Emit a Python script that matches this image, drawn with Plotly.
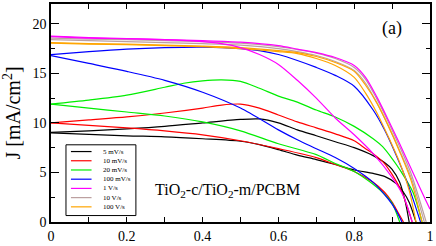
import plotly.graph_objects as go

# ---------------- data ----------------
series_names = ["5 mV/s", "10 mV/s", "20 mV/s", "100 mV/s", "1 V/s", "10 V/s", "100 V/s"]
series_colors = ["#000000", "#ff0000", "#00ee00", "#0000ff", "#ff00ff", "#bca0a0", "#ffa500"]

# 5 mV/s
v_5_rev = [0, 0.1, 0.2, 0.3, 0.4, 0.5, 0.55, 0.6, 0.65, 0.7, 0.75, 0.8, 0.85, 0.88, 0.9, 0.92, 0.935, 0.945]
j_5_rev = [9.05, 9.2, 9.4, 9.65, 10.0, 10.35, 10.4, 10.0, 9.3, 8.7, 8.1, 7.5, 6.7, 6.0, 5.3, 4.0, 2.0, 0]
v_5_fwd = [0, 0.1, 0.2, 0.3, 0.4, 0.5, 0.55, 0.6, 0.65, 0.7, 0.75, 0.8, 0.85, 0.88, 0.91, 0.93, 0.945, 0.963]
j_5_fwd = [9.0, 8.85, 8.7, 8.6, 8.4, 8.15, 7.8, 7.3, 6.75, 6.3, 5.8, 5.25, 4.9, 4.6, 3.9, 3.0, 2.0, 0]

# 10 mV/s
v_10_rev = [0, 0.1, 0.2, 0.3, 0.4, 0.45, 0.5, 0.55, 0.6, 0.65, 0.7, 0.75, 0.8, 0.83, 0.85, 0.88, 0.9, 0.926, 0.953]
j_10_rev = [10.0, 10.3, 10.6, 11.0, 11.5, 11.8, 11.9, 11.5, 10.8, 10.1, 9.5, 8.9, 8.2, 7.4, 6.9, 5.9, 4.8, 3.0, 0]
v_10_fwd = [0, 0.1, 0.2, 0.3, 0.4, 0.5, 0.6, 0.7, 0.75, 0.8, 0.85, 0.88, 0.9, 0.915, 0.93]
j_10_fwd = [10.0, 9.75, 9.5, 9.2, 8.8, 8.2, 7.4, 6.5, 5.8, 5.1, 4.0, 3.0, 2.0, 1.0, 0]

# 20 mV/s
v_20_rev = [0, 0.1, 0.2, 0.3, 0.35, 0.4, 0.45, 0.5, 0.55, 0.6, 0.65, 0.7, 0.75, 0.8, 0.85, 0.875, 0.9, 0.92, 0.955, 0.979]
j_20_rev = [11.9, 12.3, 12.8, 13.6, 14.0, 14.25, 14.35, 14.2, 13.5, 12.7, 12.1, 11.3, 10.6, 9.65, 8.4, 7.6, 6.4, 5.3, 3.0, 0]
v_20_fwd = [0, 0.1, 0.2, 0.3, 0.4, 0.5, 0.6, 0.7, 0.75, 0.8, 0.85, 0.88, 0.9, 0.92]
j_20_fwd = [11.9, 11.5, 11.1, 10.7, 10.1, 9.2, 7.9, 6.8, 5.9, 5.1, 3.8, 2.8, 1.9, 0]

# 100 mV/s
v_100m_rev = [0, 0.1, 0.2, 0.3, 0.4, 0.5, 0.55, 0.6, 0.65, 0.7, 0.75, 0.8, 0.85, 0.88, 0.91, 0.94, 0.975]
j_100m_rev = [16.9, 17.2, 17.45, 17.6, 17.65, 17.5, 17.3, 16.9, 16.3, 15.6, 14.8, 13.7, 11.3, 9.3, 6.8, 4.0, 0]
v_100m_fwd = [0, 0.1, 0.2, 0.3, 0.4, 0.5, 0.6, 0.65, 0.7, 0.75, 0.8, 0.85, 0.89, 0.91, 0.926]
j_100m_fwd = [16.8, 16.0, 15.2, 14.3, 13.1, 11.5, 9.3, 8.3, 7.4, 6.5, 5.4, 4.0, 2.3, 1.2, 0]

# 1 V/s
v_1_a = [0, 0.1, 0.2, 0.3, 0.4, 0.45, 0.5, 0.55, 0.6, 0.65, 0.7, 0.75, 0.8, 0.85, 0.9, 0.93, 0.953]
j_1_a = [18.75, 18.6, 18.5, 18.4, 18.2, 18.0, 17.6, 16.9, 15.9, 14.3, 12.5, 10.5, 8.8, 6.9, 4.5, 2.6, 0]
v_1_b = [0, 0.1, 0.2, 0.3, 0.4, 0.5, 0.6, 0.65, 0.7, 0.75, 0.8, 0.83, 0.86, 0.89, 0.92, 0.95, 0.98, 1.0]
j_1_b = [18.7, 18.55, 18.5, 18.4, 18.3, 18.15, 17.8, 17.45, 17.1, 16.6, 15.8, 14.6, 12.6, 10.3, 7.9, 5.4, 2.9, 1.3]

# 10 V/s
v_10v_a = [0, 0.1, 0.2, 0.3, 0.4, 0.5, 0.6, 0.65, 0.7, 0.75, 0.8, 0.83, 0.86, 0.89, 0.92, 0.95, 0.99]
j_10v_a = [18.55, 18.45, 18.4, 18.3, 18.2, 18.05, 17.7, 17.4, 17.05, 16.5, 15.6, 14.4, 12.4, 10.1, 7.6, 4.9, 0]
v_10v_b = [0, 0.1, 0.2, 0.3, 0.4, 0.5, 0.6, 0.65, 0.7, 0.75, 0.8, 0.83, 0.86, 0.89, 0.92, 0.95, 0.985]
j_10v_b = [18.4, 18.3, 18.2, 18.1, 18.0, 17.85, 17.5, 17.2, 16.8, 16.2, 15.3, 14.0, 12.0, 9.7, 7.2, 4.5, 0]

# 100 V/s
v_100v_a = [0, 0.1, 0.2, 0.3, 0.4, 0.5, 0.6, 0.65, 0.7, 0.75, 0.8, 0.83, 0.86, 0.89, 0.92, 0.95, 0.979]
j_100v_a = [18.1, 18.0, 17.95, 17.85, 17.75, 17.6, 17.3, 17.1, 16.7, 16.1, 15.2, 13.8, 12.0, 9.7, 7.1, 4.2, 0]
v_100v_b = [0, 0.1, 0.2, 0.3, 0.4, 0.5, 0.6, 0.65, 0.7, 0.75, 0.8, 0.83, 0.86, 0.89, 0.92, 0.945, 0.963]
j_100v_b = [18.05, 17.95, 17.9, 17.8, 17.7, 17.5, 17.2, 17.0, 16.5, 15.8, 14.6, 13.0, 11.0, 8.6, 6.0, 3.2, 0]

curves = [
    (0, v_5_rev, j_5_rev), (0, v_5_fwd, j_5_fwd),
    (1, v_10_rev, j_10_rev), (1, v_10_fwd, j_10_fwd),
    (2, v_20_rev, j_20_rev), (2, v_20_fwd, j_20_fwd),
    (3, v_100m_rev, j_100m_rev), (3, v_100m_fwd, j_100m_fwd),
    (5, v_10v_a, j_10v_a), (5, v_10v_b, j_10v_b),
    (6, v_100v_a, j_100v_a), (6, v_100v_b, j_100v_b),
    (4, v_1_a, j_1_a), (4, v_1_b, j_1_b),
]

x_ticks = [0, 0.2, 0.4, 0.6, 0.8, 1]
x_ticklabels = ["0", "0.2", "0.4", "0.6", "0.8", "1"]
y_ticks = [0, 5, 10, 15, 20]

# ---------------- figure ----------------
fig = go.Figure()
for idx, v, j in curves:
    fig.add_trace(go.Scatter(
        x=v, y=j, mode="lines", name=series_names[idx], showlegend=False,
        line=dict(color=series_colors[idx], width=1.2, shape="spline", smoothing=0.8),
    ))

FONT = "Liberation Serif"

# manual legend box (data coordinates)
leg_x0, leg_x1 = 0.0395, 0.224
leg_y_top, leg_y_bot = 7.79, 0.65
fig.add_shape(type="rect", xref="x", yref="y", x0=leg_x0, x1=leg_x1, y0=leg_y_bot, y1=leg_y_top,
              line=dict(color="black", width=1), fillcolor="white", layer="above")
row_step = 0.93
for i, (nm, col) in enumerate(zip(series_names, series_colors)):
    yy = 7.11 - i * row_step
    fig.add_shape(type="line", xref="x", yref="y", x0=0.0526, x1=0.107, y0=yy, y1=yy,
                  line=dict(color=col, width=1.2), layer="above")
    fig.add_annotation(x=0.133, y=yy, xref="x", yref="y", text=nm, showarrow=False,
                       xanchor="left", yanchor="middle", font=dict(family=FONT, size=7, color="black"))

fig.add_annotation(x=0.9, y=19.5, xref="x", yref="y", text="(a)", showarrow=False,
                   font=dict(family=FONT, size=18, color="black"))
fig.add_annotation(x=0.268, y=3.2, xref="x", yref="y",
                   text="TiO<sub>2</sub>-c/TiO<sub>2</sub>-m/PCBM", showarrow=False,
                   xanchor="left", yanchor="middle", font=dict(family=FONT, size=16, color="black"))

fig.update_xaxes(range=[0, 1], tickvals=x_ticks, ticktext=x_ticklabels,
                 ticks="inside", ticklen=5, tickwidth=1.2, tickcolor="black",
                 showline=True, linecolor="black", linewidth=1.5, mirror="allticks",
                 showgrid=False, zeroline=False,
                 minor=dict(dtick=0.1, ticks="inside", ticklen=5, tickwidth=1.2, tickcolor="black", showgrid=False),
                 tickfont=dict(family=FONT, size=14, color="black"))
fig.update_yaxes(range=[0, 22], tickvals=y_ticks,
                 ticks="inside", ticklen=8, tickwidth=1.2, tickcolor="black",
                 showline=True, linecolor="black", linewidth=1.5, mirror="allticks",
                 showgrid=False, zeroline=False,
                 minor=dict(dtick=2.5, ticks="inside", ticklen=4, tickwidth=1.2, tickcolor="black", showgrid=False),
                 tickfont=dict(family=FONT, size=14, color="black"),
                 title=dict(text="J [mA/cm<sup>2</sup>]", font=dict(family=FONT, size=20, color="black"), standoff=6))

fig.update_layout(width=436, height=246, margin=dict(l=51, r=5, t=2, b=17),
                  paper_bgcolor="white", plot_bgcolor="white", showlegend=False,
                  font=dict(family=FONT))

fig.write_html("out.html", config={"displayModeBar": False},
               post_script="document.body.style.margin='0px';document.body.style.overflow='hidden';")
